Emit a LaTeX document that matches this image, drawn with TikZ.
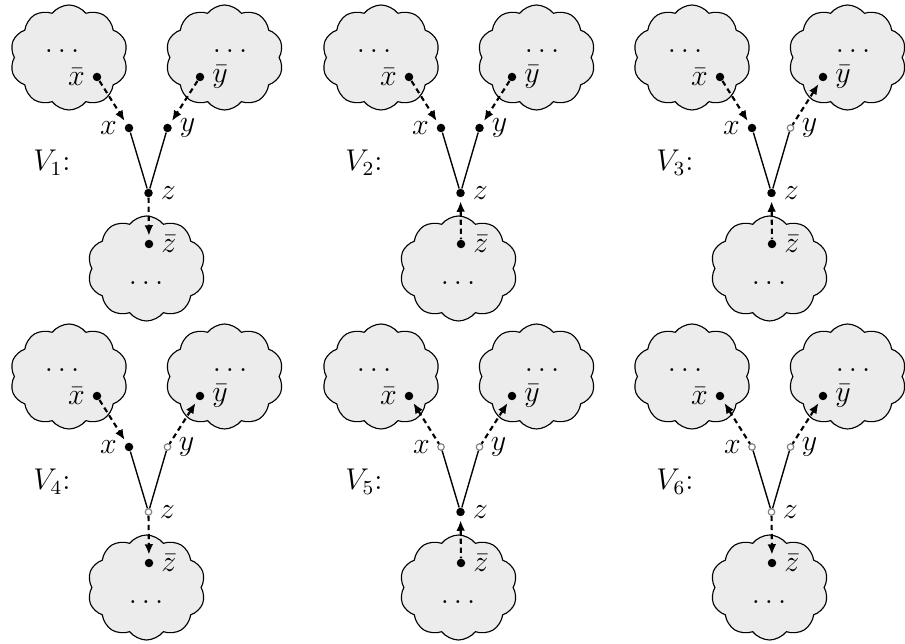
\documentclass[tikz,border=0pt,12pt]{standalone}
\usetikzlibrary{shapes.symbols,arrows.meta}

\tikzset{
  cloudbox/.style={cloud, cloud puffs=10, cloud puff arc=105, cloud ignores aspect,
    draw=black, line width=0.45pt, fill=gray!15,
    minimum width=47.2pt, minimum height=42pt, inner sep=0pt},
  fulldot/.style={circle, fill=black, inner sep=0pt, minimum size=3.4pt},
  hollowdot/.style={circle, draw=gray, fill=white, line width=0.45pt, inner sep=0pt, minimum size=2.6pt},
  dot-in/.style={fulldot},
  dot-out/.style={hollowdot},
  solidedge/.style={line width=0.55pt},
  dashedge/.style={line width=0.85pt, dash pattern=on 2.1pt off 1.5pt},
  arr-in/.style={-{Latex[length=4.2pt,width=3.5pt]}, shorten >=1.4pt},
  arr-out/.style={{Latex[length=4.2pt,width=3.5pt]}-, shorten <=1.4pt},
  every label/.style={inner sep=2.8pt},
}

% #1 id, #2 shift, #3 index, #4 x state, #5 y state, #6 z dot, #7 z edge
\newcommand\vpanel[7]{%
  \begin{scope}[shift={(#2)}]
    \node[cloudbox] (L#1) at (69,57.5) {};
    \node[cloudbox] (R#1) at (224.5,57.5) {};
    \node[cloudbox] (B#1) at (146.5,268.5) {};
    \node (dl#1) at (62,51) {$\dots$};
    \node (dr#1) at (230,51) {$\dots$};
    \node (db#1) at (146,283) {$\dots$};
    \node (v#1) at (52,163) {$V_{#3}$:};
    \node[fulldot, label=left:$\bar x$] (xb#1) at (97,77) {};
    \node[fulldot, label=right:$\bar y$] (yb#1) at (200,77) {};
    \node[fulldot, label=right:$\bar z$] (zb#1) at (149,244) {};
    \node[dot-#4, label=left:$x$] (x#1) at (129,128) {};
    \node[dot-#5, label=right:$y$] (y#1) at (167.5,128) {};
    \node[#6, label=right:$z$] (z#1) at (148.5,193) {};
    \draw[solidedge] (x#1) -- (z#1);
    \draw[solidedge] (y#1) -- (z#1);
    \draw[dashedge, arr-#4] (xb#1) -- (x#1);
    \draw[dashedge, arr-#5] (yb#1) -- (y#1);
    \draw[dashedge, #7] (z#1) -- (zb#1);
  \end{scope}}

\begin{document}
\begin{tikzpicture}[x=0.4pt, y=-0.4pt, font=\fontsize{12}{14.4}\selectfont]
  \clip (0,0) rectangle (905,644);
  \vpanel{a}{0,0}{1}{in}{in}{fulldot}{arr-in}
  \vpanel{b}{312,0}{2}{in}{in}{fulldot}{arr-out}
  \vpanel{c}{623,0}{3}{in}{out}{fulldot}{arr-out}
  \vpanel{d}{0,319}{4}{in}{out}{hollowdot}{arr-in}
  \vpanel{e}{312,319}{5}{out}{out}{fulldot}{arr-out}
  \vpanel{f}{623,319}{6}{out}{out}{hollowdot}{arr-in}
\end{tikzpicture}
\end{document}
